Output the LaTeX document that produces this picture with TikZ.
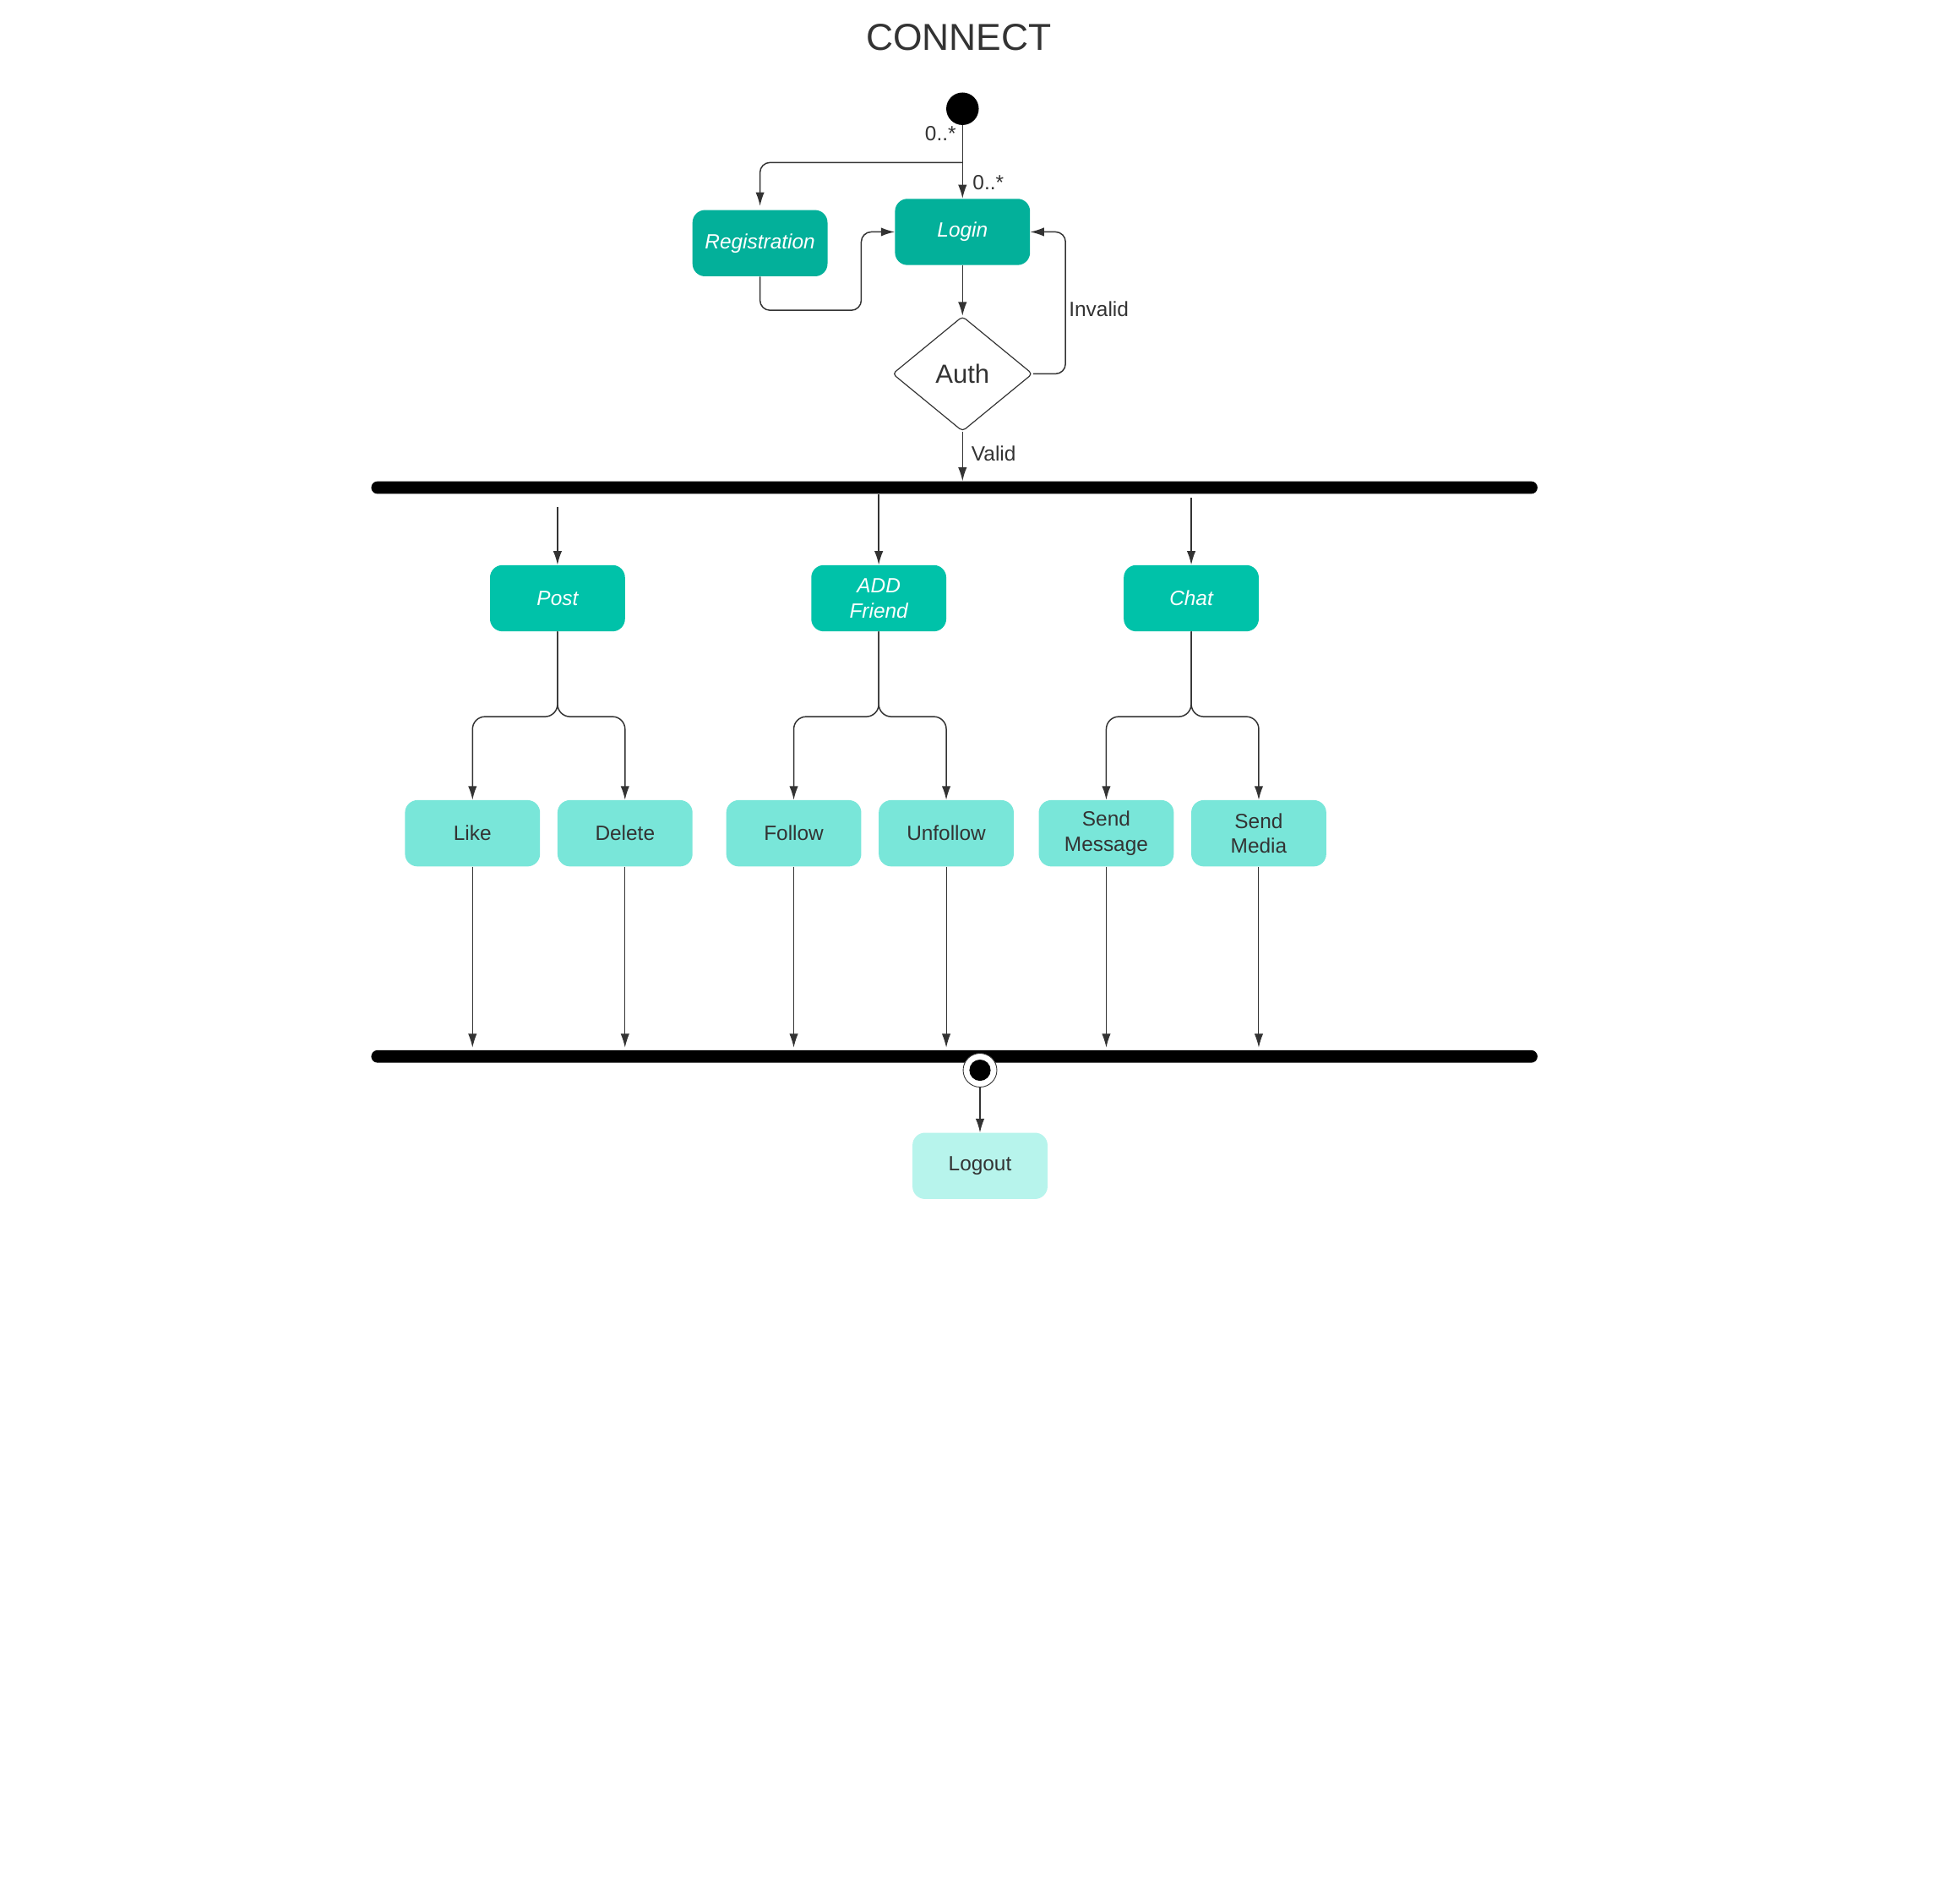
\documentclass[tikz,border=0pt]{standalone}
\usepackage{fontspec}
\setmainfont{Liberation Sans}
\usetikzlibrary{shapes.geometric,arrows.meta,positioning}

\definecolor{linegray}{HTML}{333333}
\definecolor{loginteal}{HTML}{03B09A}
\definecolor{mainteal}{HTML}{00C2A9}
\definecolor{subteal}{HTML}{79E6D9}
\definecolor{paleteal}{HTML}{B7F4EC}

\begin{document}
\begin{tikzpicture}[x=1pt, y=-1pt, >={Latex[length=11pt,width=7pt]}]
      \tikzset{
  activity/.style={
    rectangle,
    rounded corners=10pt,
    minimum width=108pt,
    minimum height=53pt,
    inner sep=0pt,
    align=center,
    text=linegray,
    font=\fontsize{16.5}{20}\selectfont
  },
  main activity/.style={
    activity,
    text=white,
    font=\fontsize{16.5}{20}\selectfont\itshape
  },
  bar/.style={
    fill=black,
    rounded corners=5pt,
    minimum width=933pt,
    minimum height=10pt,
    inner sep=0pt
  },
  flow/.style={
    draw=linegray,
    line width=1pt
  },
  tag/.style={
    text=linegray,
    inner sep=1pt,
    font=\fontsize{16.5}{20}\selectfont
  }
}

\fill[white] (0,0) rectangle (1568,1517);
\useasboundingbox (0,0) rectangle (1568,1517);

\node [text=linegray, font=\fontsize{30}{36}\selectfont] (title) at (767,30) {CONNECT};

% start and login part
\node [circle, fill=black, minimum size=26pt, inner sep=0pt] (start) at (770,87) {};
\node [main activity, fill=loginteal] (login) at (770,185.5) {Login};
\node [main activity, fill=loginteal] (registration) at (608,194.5) {Registration};
\node [diamond, draw=linegray, line width=.8pt, rounded corners=3pt, aspect=1.22,
       minimum width=112pt, minimum height=92pt, inner sep=0pt,
       text=linegray, font=\fontsize{21}{24}\selectfont] (auth) at (770,299) {Auth};
\coordinate (split) at (770,130);

\draw [flow, ->] (start) -- (login);
\draw [flow, ->, rounded corners=8pt, shorten >=3pt] (split) -| (registration.north);
\node [tag, anchor=east] (many-1) at (766,107) {0..*};
\node [tag, anchor=west] (many-2) at (777,146) {0..*};

\draw [flow, ->, rounded corners=8pt] (registration.south) -- ++(0,27) -- ++(81,0) |- (login.west);
\draw [flow, ->] (login) -- (auth);
\draw [flow, ->, rounded corners=8pt] (auth.east) -- ++(26,0) |- (login.east);
\node [tag, anchor=west] (invalid) at (854,247) {Invalid};

% fork bar
\node [bar] (fork) at (763.5,390) {};
\draw [flow, ->] (auth.south) -- (auth.south |- fork.north);
\node [tag, anchor=west] (valid) at (776,363) {Valid};

\foreach \m/\x/\l in {post/446/Post, friend/703/{ADD\\Friend}, chat/953/Chat}
  \node [main activity, fill=mainteal] (\m) at (\x,478.5) {\l};

\foreach \m/\g in {post/-10, friend/0, chat/-3}
  \draw [flow, ->] ([yshift=\g pt]fork.south -| \m.north) -- (\m.north);

% sub activities
\foreach \m/\x/\l in {like/378/Like, delete/500/Delete, follow/635/Follow,
                      unfollow/757/Unfollow, sendmsg/885/{Send\\Message}, sendmedia/1007/{Send\\Media}}
  \node [activity, fill=subteal] (\m) at (\x,666.5) {\l};

\foreach \p/\a/\b in {post/like/delete, friend/follow/unfollow, chat/sendmsg/sendmedia}
{
  \draw [flow, ->, rounded corners=10pt] (\p.south) -- ++(0,68) -| (\a.north);
  \draw [flow, ->, rounded corners=10pt] (\p.south) -- ++(0,68) -| (\b.north);
}

% join bar
\node [bar] (join) at (763.5,845) {};

\foreach \m in {like, delete, follow, unfollow, sendmsg, sendmedia}
  \draw [flow, ->, line width=.7pt, shorten >=2pt] (\m.south) -- (\m.south |- join.north);

% end
\node [circle, draw=linegray, line width=.6pt, fill=white, minimum size=27pt, inner sep=0pt] (final) at (784,856) {};
\node [circle, fill=black, minimum size=17pt, inner sep=0pt] (final-dot) at (final) {};
\node [activity, fill=paleteal] (logout) at (784,932.5) {Logout};
\draw [flow, ->, line width=.8pt] (final) -- (logout);
      \end{tikzpicture}
\end{document}
